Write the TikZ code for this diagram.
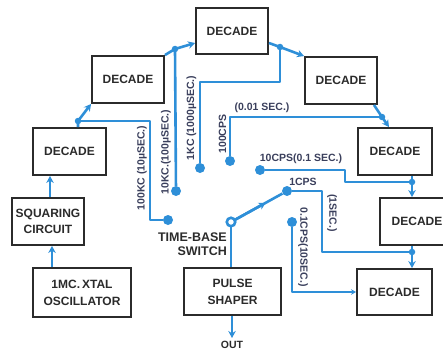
\documentclass[tikz,border=0pt]{standalone}
\usepackage{fontspec}
\setmainfont{Liberation Sans}
\usetikzlibrary{arrows.meta,calc}
\definecolor{wire}{HTML}{2E8FD8}
\definecolor{ink}{HTML}{2B2B2B}
\definecolor{lab}{HTML}{3A3F5C}
\tikzset{
  box/.style={draw=ink, line width=1.9pt, fill=white, text=ink, font=\bfseries\fontsize{12}{14}\selectfont, align=center, inner sep=0pt},
  wire/.style={draw=wire, line width=2.6pt, line join=round},
  arr/.style={wire, -{Stealth[length=7pt,width=7.5pt]}},
  dot/.style={circle, fill=wire, inner sep=0pt, minimum size=10pt},
  jdot/.style={circle, fill=wire, inner sep=0pt, minimum size=6.5pt},
  lbl/.style={text=lab, font=\bfseries\fontsize{10.5}{12}\selectfont, inner sep=0pt},
}
\begin{document}
\begin{tikzpicture}[x=1pt,y=-1pt]
\useasboundingbox (0,0) rectangle (443,350);
% boxes
\node[box, minimum width=72pt, minimum height=46pt] (A) at (232,31) {DECADE};
\node[box, minimum width=72pt, minimum height=47pt] (B) at (128,79.5) {DECADE};
\node[box, minimum width=73pt, minimum height=47pt] (L) at (69.5,151.5) {DECADE};
\node[box, minimum width=72pt, minimum height=47pt] (C) at (341,80.5) {DECADE};
\node[box, minimum width=74pt, minimum height=47pt] (D) at (395,151.5) {DECADE};
\node[box, minimum width=74pt, minimum height=47pt] (E) at (417,221.5) {DECADE};
\node[box, minimum width=75pt, minimum height=46pt] (F) at (394.5,292) {DECADE};
\node[box, minimum width=72pt, minimum height=47pt] (S) at (48,221.5) {SQUARING\\[2pt]CIRCUIT};
\node[box, minimum width=98pt, minimum height=49pt] (O) at (82,292.5) {1MC.\,XTAL\\[3pt]OSCILLATOR};
\node[box, minimum width=97pt, minimum height=47pt] (P) at (232.5,291.5) {PULSE\\[3pt]SHAPER};

% coordinates
\coordinate (jL) at (78,121);
\coordinate (jB) at (175,49);
\coordinate (jA) at (280,47);
\coordinate (jC) at (382,117);
\coordinate (jD) at (412,182);
\coordinate (jE) at (412,252);
\node[dot] (d100k) at (168,220) {};
\node[dot] (d10k) at (176,191) {};
\node[dot] (d1k) at (200,168) {};
\node[dot] (d100) at (230,161) {};
\node[dot] (d10) at (260,170) {};
\node[dot] (d1) at (287,191) {};
\node[dot] (d01) at (292,222) {};
\coordinate (pv) at (231,222);

% chain
\draw[arr] (O.north -| 52,0) -- (S.south -| 52,0);
\draw[arr] (S.north -| 50,0) -- (L.south -| 50,0);
\draw[arr] (L.north -| 78,0) -- (jL) -- (B.south west);
\draw[arr] (B.north east) -- (jB) -- (A.west |- 0,43);
\draw[arr] (A.east |- 0,43) -- (jA) -- (C.north west);
\coordinate (cse) at ($(C.south east)+(-4,0)$);
\draw[arr] (cse) -- (jC) -- (D.north -| 389,0);
\draw[arr] (D.south -| 412,0) -- (E.north -| 412,0);
\draw[arr] (E.south -| 412,0) -- (F.north -| 412,0);
\coordinate (outend) at (232,338);
\draw[arr] (P.south -| outend) -- (outend);
\node[text=ink, font=\bfseries\fontsize{10.5}{12}\selectfont, anchor=north, inner sep=0pt] (out) at (232,341) {OUT};

% taps
\draw[wire] (jL) -- (150,121) -- (150,220) -- (d100k);
\draw[wire] (jB) -- (d10k);
\draw[wire] (jA) -- (280,82) -- (200,82) -- (d1k);
\draw[wire] (jC) -- (230,117) -- (d100);
\draw[wire] (jD) -- (345,182) -- (345,170) -- (d10);
\draw[wire] (jE) -- (322,252) -- (322,191) -- (d1);
\draw[wire, -{Stealth[length=5pt,width=5.5pt]}] (d01) -- (292,292) -- (F.west);
\node[jdot] at (jL) {};
\node[jdot] at (jB) {};
\node[jdot] at (jA) {};
\node[jdot] at (jC) {};
\node[jdot] at (jD) {};
\node[jdot] at (jE) {};

% switch
\draw[wire] (pv) -- (P.north -| pv);
\draw[wire] (pv) -- (d1);
\draw[wire, -{Stealth[length=7pt,width=7.5pt]}] (pv) -- ($(pv)!0.62!(d1)$);
\node[circle, draw=wire, line width=2.6pt, fill=white, inner sep=0pt, minimum size=8.5pt] (pivot) at (pv) {};

% labels
\node[lbl, rotate=90] (l100k) at (142,168) {100KC (10µSEC.)};
\node[lbl, rotate=90] (l10k) at (166,152) {10KC.(100µSEC.)};
\node[lbl, rotate=90] (l1k) at (191.5,118) {1KC (1000µSEC.)};
\node[lbl, rotate=90] (l100) at (222.5,134) {100CPS};
\node[lbl] (l001) at (262,108) {(0.01 SEC.)};
\node[lbl] (l10) at (301,159) {10CPS(0.1 SEC.)};
\node[lbl] (l1) at (303,182) {1CPS};
\node[lbl, rotate=-90] (l1s) at (332,213) {(1SEC.)};
\node[lbl, rotate=-90] (l01) at (303,247) {0.1CPS(10SEC.)};
\node[text=ink, font=\bfseries\fontsize{12.5}{14}\selectfont, align=right, anchor=east, inner sep=0pt] (tbs) at (227,244) {TIME-BASE\\SWITCH};
\end{tikzpicture}
\end{document}
